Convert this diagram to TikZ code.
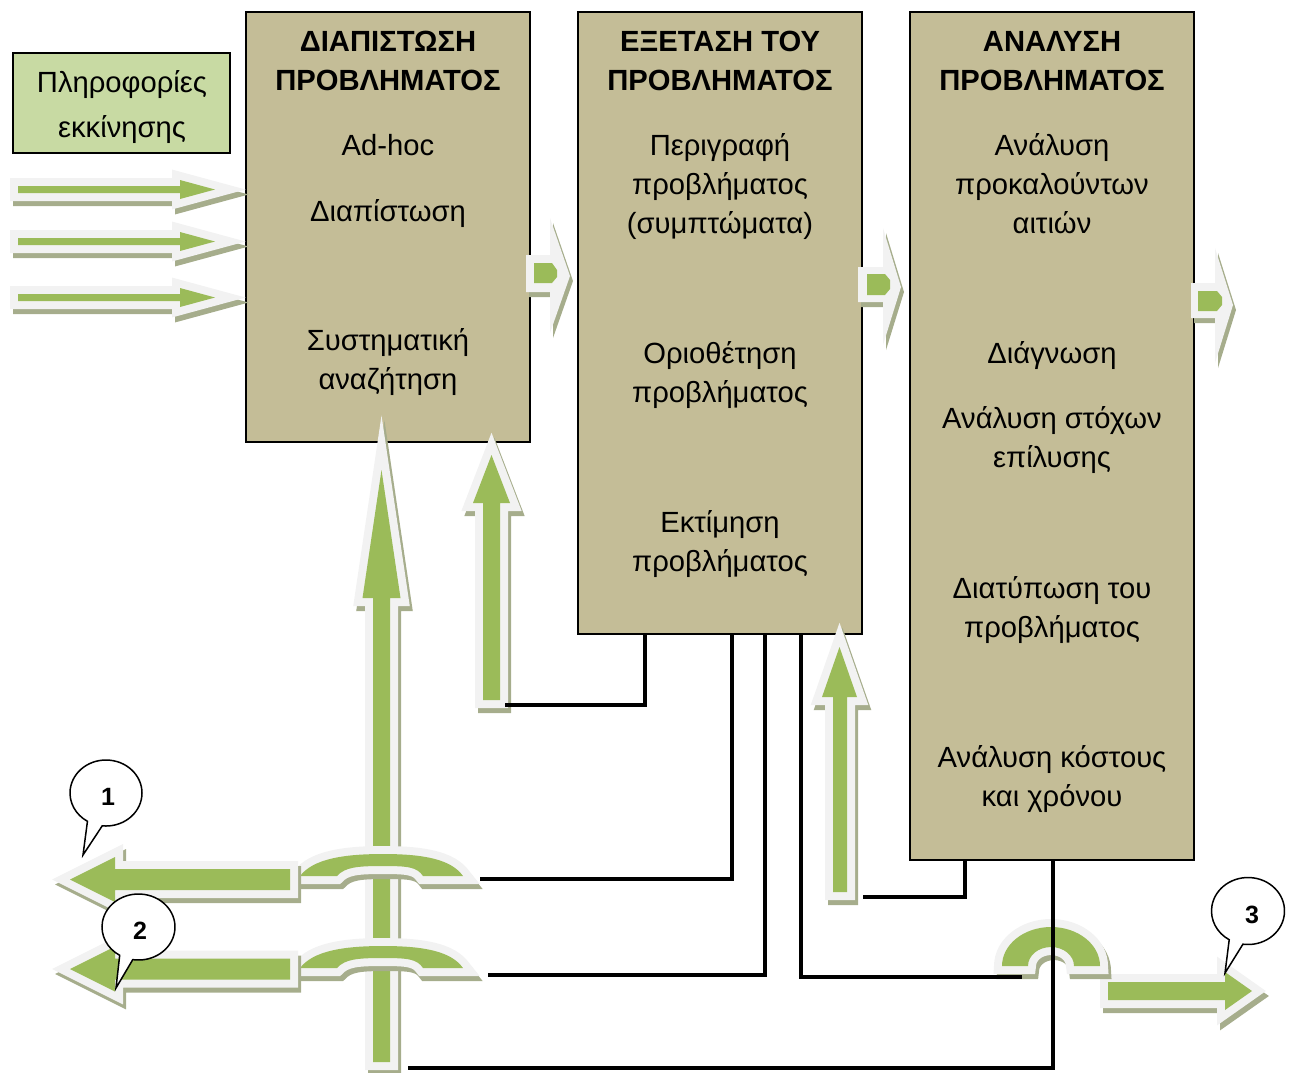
\documentclass[tikz,border=0pt]{standalone}
\usepackage{fontspec}
\setmainfont{Liberation Sans}
\definecolor{tanbox}{HTML}{C4BD97}
\definecolor{infogreen}{HTML}{C8DAA3}
\definecolor{arrgreen}{HTML}{9BBB59}
\definecolor{arrrim}{HTML}{F2F2F2}
\definecolor{arrshadow}{HTML}{A6AD8C}
\begin{document}
\begin{tikzpicture}[x=1pt,y=-1pt,
  pbox/.style={draw=black, line width=2pt, fill=tanbox, inner sep=0pt, outer sep=0pt, minimum width=284pt},
  txt/.style={font=\fontsize{29.2}{39}\selectfont, anchor=base, inner sep=0pt},
  ttl/.style={font=\fontsize{29.2}{39}\selectfont\bfseries, anchor=base, inner sep=0pt},
  conn/.style={draw=black, line width=3.5pt},
  garrow/.style={fill=arrgreen, line join=miter, miter limit=12,
    preaction={fill=arrshadow, draw=arrshadow, line width=16pt, line join=miter, miter limit=12,
               transform canvas={shift={(3pt,-5pt)}}},
    preaction={fill=arrrim, draw=arrrim, line width=16pt, line join=miter, miter limit=12}},
  rimshape/.style={fill=arrrim,
    preaction={fill=arrshadow, transform canvas={shift={(3pt,-5pt)}}}},
  core/.style={fill=arrgreen},
  callout/.style={draw=black, line width=1.5pt, fill=white, line join=miter},
  num/.style={font=\fontsize{25}{28}\selectfont\bfseries, inner sep=0pt},
  pics/archbridge/.style={code={
    \path[garrow, miter limit=4] (-83,0) .. controls (-70,-17) and (-40,-22) .. (0,-22)
      .. controls (40,-22) and (68,-17) .. (80,0) -- (40,0)
      .. controls (34,-9) and (25,-10) .. (0,-10)
      .. controls (-25,-10) and (-38,-9) .. (-46,0) -- cycle;}}
]
\useasboundingbox (0,0) rectangle (1289,1072);

% ---- process boxes ----
\node[pbox, minimum height=430pt] (b1) at (388,227) {};
\node[pbox, minimum height=622pt] (b2) at (720,323) {};
\node[pbox, minimum height=848pt] (b3) at (1052,436) {};
\node[draw=black, line width=2pt, fill=infogreen, inner sep=0pt, outer sep=0pt,
      minimum width=217pt, minimum height=100pt] (info) at (121.5,103) {};

% ---- texts ----
\node[txt] (i1) at (122,92) {Πληροφορίες};
\node[txt] (i2) at (122,137) {εκκίνησης};

\node[ttl] (h1a) at (388,51) {ΔΙΑΠΙΣΤΩΣΗ};
\node[ttl] (h1b) at (388,90) {ΠΡΟΒΛΗΜΑΤΟΣ};
\node[txt] (t1a) at (388,155) {Ad-hoc};
\node[txt] (t1b) at (388,221) {Διαπίστωση};
\node[txt] (t1c) at (388,350) {Συστηματική};
\node[txt] (t1d) at (388,389) {αναζήτηση};

\node[ttl] (h2a) at (720,51) {ΕΞΕΤΑΣΗ ΤΟΥ};
\node[ttl] (h2b) at (720,90) {ΠΡΟΒΛΗΜΑΤΟΣ};
\node[txt] (t2a) at (720,155) {Περιγραφή};
\node[txt] (t2b) at (720,194) {προβλήματος};
\node[txt] (t2c) at (720,233) {(συμπτώματα)};
\node[txt] (t2d) at (720,363) {Οριοθέτηση};
\node[txt] (t2e) at (720,402) {προβλήματος};
\node[txt] (t2f) at (720,532) {Εκτίμηση};
\node[txt] (t2g) at (720,571) {προβλήματος};

\node[ttl] (h3a) at (1052,51) {ΑΝΑΛΥΣΗ};
\node[ttl] (h3b) at (1052,90) {ΠΡΟΒΛΗΜΑΤΟΣ};
\node[txt] (t3a) at (1052,155) {Ανάλυση};
\node[txt] (t3b) at (1052,194) {προκαλούντων};
\node[txt] (t3c) at (1052,233) {αιτιών};
\node[txt] (t3d) at (1052,363) {Διάγνωση};
\node[txt] (t3e) at (1052,428) {Ανάλυση στόχων};
\node[txt] (t3f) at (1052,467) {επίλυσης};
\node[txt] (t3g) at (1052,598) {Διατύπωση του};
\node[txt] (t3h) at (1052,637) {προβλήματος};
\node[txt] (t3i) at (1052,767) {Ανάλυση κόστους};
\node[txt] (t3j) at (1052,806) {και χρόνου};

% ---- incoming arrows ----
\foreach \c in {189.5,241.5,297.5}{
  \path[garrow] (18,\c-3.5) -- (180,\c-3.5) -- (180,\c-9.5) -- (215,\c)
    -- (180,\c+9.5) -- (180,\c+3.5) -- (18,\c+3.5) -- cycle;
}

% ---- notched arrows between the stages ----
\path[rimshape] (526,255) -- (550,255) -- (550,218) -- (570,276) -- (550,333) -- (550,292) -- (526,292) -- cycle;
\path[core] (534,263) -- (552,263) -- (557,270) -- (557,277) -- (552,283) -- (534,283) -- cycle;
\path[rimshape] (858,267) -- (883,267) -- (883,228) -- (901,287) -- (883,345) -- (883,302) -- (858,302) -- cycle;
\path[core] (867,274) -- (885,274) -- (890,280) -- (890,289) -- (885,295) -- (867,295) -- cycle;
\path[rimshape] (1191,283) -- (1215,283) -- (1215,248) -- (1233,305) -- (1215,363) -- (1215,318) -- (1191,318) -- cycle;
\path[core] (1198,291) -- (1217,291) -- (1222,297) -- (1222,305) -- (1217,311) -- (1198,311) -- cycle;

% ---- feedback arrows ----
\path[garrow] (483,700) -- (483,503) -- (473,503) -- (491.5,455) -- (510,503) -- (500,503) -- (500,700) -- cycle;
\path[garrow] (833,892) -- (833,697) -- (822,697) -- (839.5,647) -- (857,697) -- (847,697) -- (847,892) -- cycle;
\path[garrow] (373,1062) -- (373,598) -- (362.5,598) -- (381.5,470) -- (400.5,598) -- (390,598) -- (390,1062) -- cycle;

% ---- outgoing arrows with bridges ----
\pic at (383,876) {archbridge};
\pic at (383,968) {archbridge};
\foreach \c in {879.5,969}{
  \path[garrow] (290,\c-10.5) -- (115,\c-10.5) -- (115,\c-22.5) -- (70,\c)
    -- (115,\c+22.5) -- (115,\c+10.5) -- (290,\c+10.5) -- cycle;
}
\path[garrow] (1108,982) -- (1225,982) -- (1225,972) -- (1252,991) -- (1225,1010) -- (1225,1000) -- (1108,1000) -- cycle;
\path[garrow, miter limit=4] (1002,966) arc[start angle=180, end angle=360, x radius=49, y radius=39]
  -- (1074,966) arc[start angle=0, end angle=-180, x radius=23, y radius=19] -- cycle;

% ---- connectors ----
\coordinate (e1) at (505,705);
\coordinate (e2) at (480,879);
\coordinate (e3) at (488,975);
\coordinate (e4) at (1022,977);
\coordinate (e5) at (863,897);
\coordinate (e6) at (408,1068);
\draw[conn] ([xshift=67pt]b2.south west) |- (e1);
\draw[conn] ([xshift=154pt]b2.south west) |- (e2);
\draw[conn] ([xshift=187pt]b2.south west) |- (e3);
\draw[conn] ([xshift=223pt]b2.south west) |- (e4);
\draw[conn] ([xshift=55pt]b3.south west) |- (e5);
\draw[conn] ([xshift=143pt]b3.south west) |- (e6);

% ---- numbered callouts ----
\draw[callout] (106,793) ++(96:36 and 33) arc[start angle=96, end angle=-239, x radius=36, y radius=33] -- (83,855) -- cycle;
\node[num] (n1) at (108,797) {1};
\draw[callout] (138.5,927) ++(99:36.5 and 33) arc[start angle=99, end angle=-239, x radius=36.5, y radius=33] -- (116,988) -- cycle;
\node[num] (n2) at (140,931) {2};
\draw[callout] (1248,911) ++(98:36.5 and 33.5) arc[start angle=98, end angle=-239, x radius=36.5, y radius=33.5] -- (1225,973) -- cycle;
\node[num] (n3) at (1252,915) {3};
\end{tikzpicture}
\end{document}
